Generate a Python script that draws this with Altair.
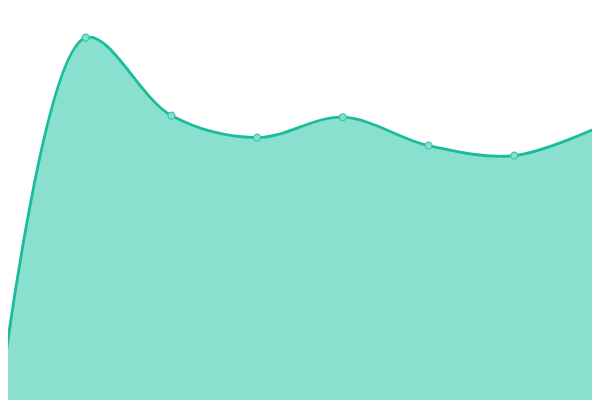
import altair as alt
import pandas as pd

steps = [0, 1, 2, 3, 4, 5, 6, 7]
values = [0, 90.6, 71.1, 65.6, 70.7, 63.6, 61.1, 68.4]

df = pd.DataFrame({"step": steps, "value": values})

x = alt.X("step:Q", scale=alt.Scale(domain=[0.0933, 6.9067], nice=False, zero=False), axis=None)
y = alt.Y("value:Q", scale=alt.Scale(domain=[0, 98], nice=False), axis=None)

area = alt.Chart(df).mark_area(interpolate="catmull-rom", color="#89e0cf", clip=True).encode(x=x, y=y)
line = alt.Chart(df).mark_line(interpolate="catmull-rom", color="#1abc9c", strokeWidth=2.8, clip=True).encode(x=x, y=y)
points = alt.Chart(df).mark_point(
    filled=True, size=48, fill="#86dfcc", stroke="#3cc6a9", strokeWidth=1.2, opacity=1, clip=True
).encode(x=x, y=y)

chart = (area + line + points).properties(width=584, height=392, padding=0).configure_view(stroke=None)

chart.save("out.html", embed_options={"renderer": "svg", "actions": False})
